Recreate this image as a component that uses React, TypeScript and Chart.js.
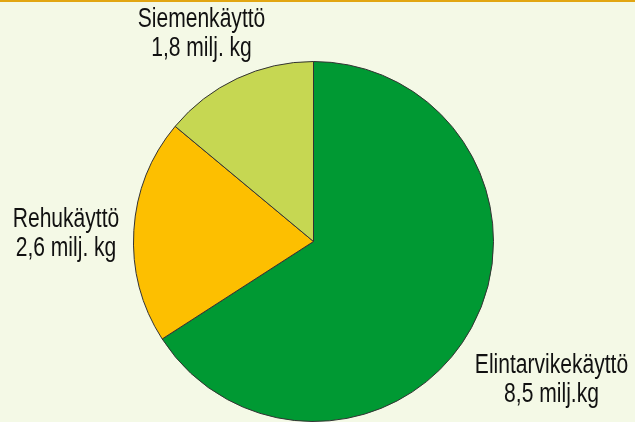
import React, { useEffect, useRef } from "react";
import { Chart, registerables } from "chart.js";

Chart.register(...registerables);

const categories = ["Elintarvikekäyttö", "Rehukäyttö", "Siemenkäyttö"];
const values = [8.5, 2.6, 1.8];
const valueLabels = ["8,5 milj.kg", "2,6 milj. kg", "1,8 milj. kg"];
const colors = ["#009933", "#FDBF00", "#C6D752"];

const FONT = '"Liberation Sans", Arial, sans-serif';

export default function App() {
  const ref = useRef<HTMLCanvasElement>(null);
  useEffect(() => {
    const canvas = ref.current!;
    const labelPlugin = {
      id: "outsideLabels",
      afterDraw(chart: any) {
        const ctx = chart.ctx;
        const meta = chart.getDatasetMeta(0);
        const arc0 = meta.data[0] as any;
        const cx = arc0.x;
        const cy = arc0.y;
        // label anchor positions (first-line baseline) relative to pie center
        const pos = [
          { x: cx + 238, y: cy + 131.5 },
          { x: cx - 247.5, y: cy - 15 },
          { x: cx - 112, y: cy - 215 },
        ];
        ctx.save();
        ctx.fillStyle = "#111111";
        ctx.textAlign = "center";
        ctx.textBaseline = "alphabetic";
        ctx.font = `27px ${FONT}`;
        const draw = (t: string, x: number, y: number) => {
          ctx.save();
          ctx.translate(x, y);
          ctx.scale(0.78, 1);
          ctx.fillText(t, 0, 0);
          ctx.restore();
        };
        categories.forEach((c, i) => {
          draw(c, pos[i].x, pos[i].y);
          draw(valueLabels[i], pos[i].x, pos[i].y + 29);
        });
        ctx.restore();
      },
    };
    const chart = new Chart(canvas, {
      type: "pie",
      data: {
        labels: categories,
        datasets: [
          {
            data: values,
            backgroundColor: colors,
            borderColor: "#333333",
            borderWidth: 1,
            hoverBorderWidth: 1,
            hoverOffset: 0,
          },
        ],
      },
      options: {
        responsive: false,
        animation: false,
        layout: { padding: { left: 133, right: 141, top: 61, bottom: 0 } },
        plugins: { legend: { display: false }, tooltip: { enabled: false } },
        events: [],
      },
      plugins: [labelPlugin],
    });
    return () => chart.destroy();
  }, []);
  return (
    <div
      style={{
        position: "fixed",
        left: 0,
        top: 0,
        width: 635,
        height: 422,
        background: "#F4F9E6",
        overflow: "hidden",
      }}
    >
      <div style={{ position: "absolute", left: 0, top: 0, width: 635, height: 2, background: "#E2A612" }} />
      <canvas ref={ref} width={635} height={422} style={{ position: "absolute", left: 0, top: 0 }} />
    </div>
  );
}
